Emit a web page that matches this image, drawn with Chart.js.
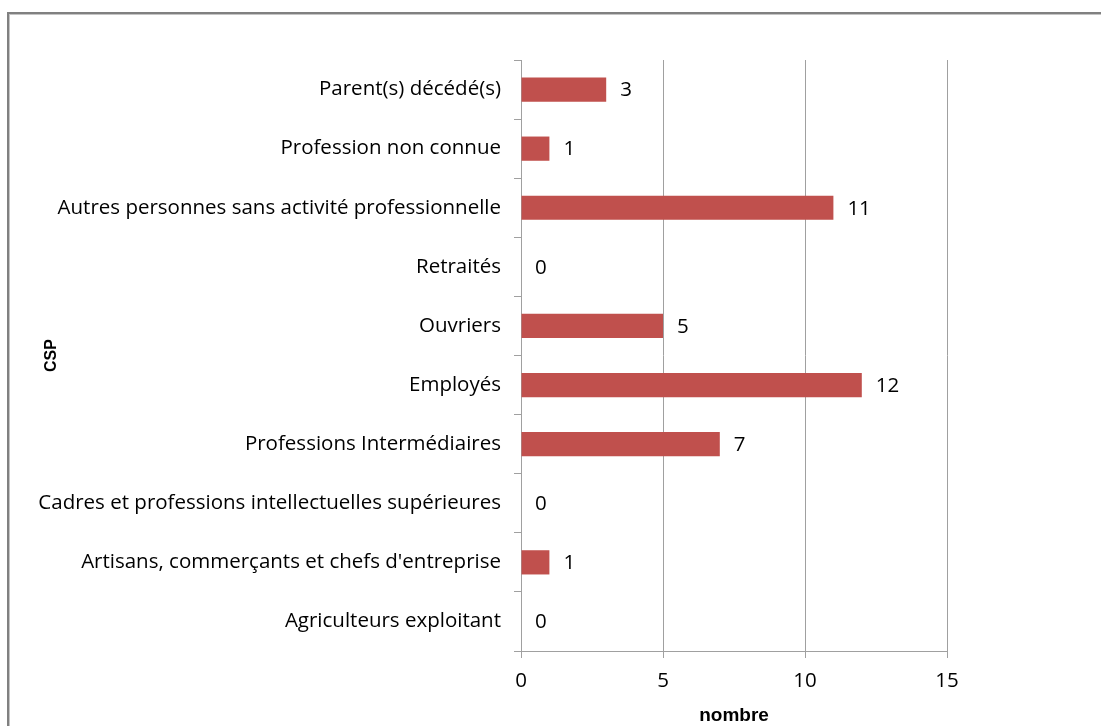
<!DOCTYPE html>
<html lang="fr">
<head>
<meta charset="utf-8">
<title>CSP</title>
<script src="https://cdn.jsdelivr.net/npm/chart.js@4/dist/chart.umd.min.js"></script>
<style>
  html, body { margin: 0; padding: 0; background: #fff; overflow: hidden; }
  #cadre {
    position: absolute; left: 7px; top: 12px; width: 1300px; height: 900px;
    border-left: 2px solid #808080; border-top: 2px solid #808080;
    box-shadow: inset 1px 1px 0 #c4c4c4;
  }
  #graphique { position: absolute; left: 0; top: 0; }
</style>
</head>
<body>
<div id="cadre"></div>
<canvas id="graphique" width="1101" height="726"></canvas>
<script>
// categories, de haut en bas comme sur l'image
const categories = [
    'Parent(s) décédé(s)',
    'Profession non connue',
    'Autres personnes sans activité professionnelle',
    'Retraités',
    'Ouvriers',
    'Employés',
    'Professions Intermédiaires',
    'Cadres et professions intellectuelles supérieures',
    "Artisans, commerçants et chefs d'entreprise",
    'Agriculteurs exploitant'
];
const nombres = [3, 1, 11, 0, 5, 12, 7, 0, 1, 0];
const ticksX = [0, 5, 10, 15];

const POLICE = '"Open Sans", Lato, sans-serif';
const POLICE_TITRE = '"Liberation Sans", Arial, sans-serif';
const TAILLE = 20.5;
const GRIS = '#a0a0a0';

// ecrit la valeur a droite de chaque barre
const etiquettesValeurs = {
    id: 'etiquettesValeurs',
    afterDatasetsDraw(chart) {
        const ctx = chart.ctx;
        const meta = chart.getDatasetMeta(0);
        ctx.save();
        ctx.font = TAILLE + 'px ' + POLICE;
        ctx.fillStyle = '#000';
        ctx.textAlign = 'left';
        ctx.textBaseline = 'middle';
        meta.data.forEach((barre, i) => {
            ctx.fillText(String(nombres[i]), barre.x + 14, barre.y + 1);
        });
        ctx.restore();
    }
};

function dessinerGraphique() {
    const ctx = document.getElementById('graphique').getContext('2d');

    new Chart(ctx, {
        type: 'bar',
        data: {
            labels: categories,
            datasets: [{
                label: 'nombre',
                data: nombres,
                backgroundColor: '#C0504D',
                borderWidth: 0,
                barPercentage: 0.41,
                categoryPercentage: 1
            }]
        },
        options: {
            indexAxis: 'y',
            responsive: false,
            animation: false,
            layout: { padding: { top: 60, right: 154, left: 0, bottom: 0 } },
            scales: {
                x: {
                    min: 0,
                    max: 15,
                    afterBuildTicks: scale => { scale.ticks = ticksX.map(v => ({ value: v })); },
                    afterFit: scale => { scale.height = 75; },
                    grid: { color: GRIS, tickLength: 7, lineWidth: 1 },
                    border: { color: GRIS },
                    ticks: { color: '#000', padding: 11, font: { family: POLICE, size: TAILLE } },
                    title: {
                        display: true, text: 'nombre', color: '#000',
                        font: { family: POLICE_TITRE, size: 19, weight: 'bold', lineHeight: 1 },
                        padding: { top: 0, bottom: 1 }
                    }
                },
                y: {
                    afterFit: scale => { scale.width = 521; },
                    grid: { color: GRIS, tickLength: 7, drawOnChartArea: false, offset: true },
                    border: { color: GRIS },
                    ticks: { color: '#000', padding: 13, font: { family: POLICE, size: TAILLE } },
                    title: {
                        display: true, text: 'CSP', color: '#000',
                        font: { family: POLICE_TITRE, size: 16, weight: 'bold', lineHeight: 1 },
                        padding: { top: 44, bottom: 0 }
                    }
                }
            },
            plugins: {
                legend: { display: false },
                tooltip: { enabled: false }
            }
        },
        plugins: [etiquettesValeurs]
    });
}

document.addEventListener('DOMContentLoaded', dessinerGraphique);
</script>
</body>
</html>
